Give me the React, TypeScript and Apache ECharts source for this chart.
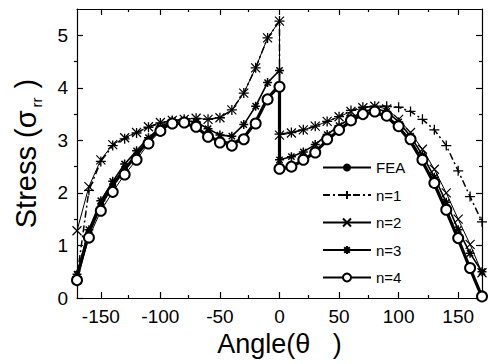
import React, { useEffect, useRef } from "react";
import * as echarts from "echarts";

const angles = [-170, -160, -150, -140, -130, -120, -110, -100, -90, -80, -70, -60, -50, -40, -30, -20, -10, 0,
  0, 10, 20, 30, 40, 50, 60, 70, 80, 90, 100, 110, 120, 130, 140, 150, 160, 170];

const fea = [0.40, 1.25, 1.78, 2.15, 2.45, 2.72, 3.00, 3.22, 3.32, 3.33, 3.25, 3.08, 2.98, 2.93, 3.05, 3.35, 3.80, 4.05,
  2.45, 2.50, 2.62, 2.78, 3.00, 3.20, 3.37, 3.50, 3.54, 3.45, 3.25, 2.98, 2.60, 2.17, 1.66, 1.12, 0.56, 0.02];
const n1 = [0.40, 2.05, 2.60, 2.90, 3.03, 3.14, 3.25, 3.33, 3.38, 3.40, 3.42, 3.40, 3.43, 3.58, 3.90, 4.38, 4.95, 5.27,
  3.12, 3.15, 3.20, 3.27, 3.36, 3.45, 3.57, 3.63, 3.65, 3.65, 3.63, 3.55, 3.40, 3.20, 2.90, 2.42, 1.93, 1.45];
const n2 = [1.28, 2.12, 2.63, 2.92, 3.05, 3.15, 3.26, 3.34, 3.38, 3.40, 3.42, 3.40, 3.43, 3.58, 3.90, 4.38, 4.95, 5.27,
  3.10, 3.14, 3.20, 3.27, 3.36, 3.45, 3.55, 3.62, 3.65, 3.60, 3.40, 3.15, 2.83, 2.45, 2.00, 1.50, 1.02, 0.48];
const n3 = [0.45, 1.30, 1.85, 2.22, 2.55, 2.80, 3.05, 3.25, 3.38, 3.38, 3.35, 3.22, 3.10, 3.08, 3.30, 3.65, 4.10, 4.33,
  2.63, 2.69, 2.78, 2.92, 3.11, 3.28, 3.42, 3.55, 3.60, 3.55, 3.35, 3.08, 2.72, 2.30, 1.82, 1.30, 0.85, 0.50];
const n4 = [0.34, 1.15, 1.66, 2.02, 2.35, 2.63, 2.94, 3.18, 3.32, 3.34, 3.26, 3.07, 2.96, 2.90, 3.02, 3.32, 3.78, 4.02,
  2.46, 2.50, 2.63, 2.77, 3.02, 3.20, 3.38, 3.50, 3.55, 3.47, 3.27, 3.02, 2.63, 2.19, 1.68, 1.14, 0.57, 0.03];

const seriesNames = ["FEA", "n=1", "n=2", "n=3", "n=4"];
const xMajor = [-150, -100, -50, 0, 50, 100, 150];
const xMinor = [-125, -75, -25, 25, 75, 125];
const yMajor = [0, 1, 2, 3, 4, 5];
const yMinor = [0.5, 1.5, 2.5, 3.5, 4.5];

const FONT = "Liberation Sans, Arial, Helvetica, sans-serif";
const PLUS = "path://M5 0L5 10M0 5L10 5";
const CROSS = "path://M0 0L10 10M10 0L0 10";
const STAR = "path://M5 0L5 10M0 5L10 5M1.5 1.5L8.5 8.5M8.5 1.5L1.5 8.5";

const pairs = (arr: number[]) => angles.map((a, i) => [a, arr[i]]);

export default function App() {
  const ref = useRef<HTMLDivElement>(null);
  useEffect(() => {
    if (!ref.current) return;
    const chart = echarts.init(ref.current, null, { renderer: "svg" });
    const black = "#000";
    const tickX = (pos: string, grid: number, vals: number[], len: number, labels: boolean, line: boolean) => ({
      type: "value", gridIndex: grid, position: pos, min: -170, max: 170,
      axisLine: { show: line, onZero: false, lineStyle: { color: black, width: 1.2 } },
      axisTick: { show: true, inside: true, length: len, customValues: vals, lineStyle: { color: black, width: 1.2 } },
      axisLabel: labels ? { show: true, customValues: vals, color: black, fontSize: 19, fontFamily: FONT, margin: 9 } : { show: false },
      splitLine: { show: false },
    });
    const tickY = (pos: string, grid: number, vals: number[], len: number, labels: boolean, line: boolean) => ({
      type: "value", gridIndex: grid, position: pos, min: 0, max: 5.5,
      axisLine: { show: line, onZero: false, lineStyle: { color: black, width: 1.2 } },
      axisTick: { show: true, inside: true, length: len, customValues: vals, lineStyle: { color: black, width: 1.2 } },
      axisLabel: labels ? { show: true, customValues: vals, color: black, fontSize: 19, fontFamily: FONT, margin: 9 } : { show: false },
      splitLine: { show: false },
    });
    const xs: any[] = [
      tickX("bottom", 0, xMajor, 6, true, true),
      tickX("top", 0, xMajor, 6, false, true),
      tickX("bottom", 1, xMinor, 3, false, false),
      tickX("top", 1, xMinor, 3, false, false),
    ];
    xs[0].name = "Angle(θ   )";
    xs[0].nameLocation = "middle";
    xs[0].nameGap = 32;
    xs[0].nameTextStyle = { fontSize: 27, fontFamily: FONT, color: black };
    const ys: any[] = [
      tickY("left", 0, yMajor, 6, true, true),
      tickY("right", 0, yMajor, 6, false, true),
      tickY("left", 1, yMinor, 3, false, false),
      tickY("right", 1, yMinor, 3, false, false),
    ];
    ys[0].name = "{a|Stress (σ}{b|rr}{a| )}";
    ys[0].nameLocation = "middle";
    ys[0].nameGap = 33;
    ys[0].nameTextStyle = {
      fontSize: 29, fontFamily: FONT, color: black,
      rich: {
        a: { fontSize: 29, fontFamily: FONT, color: black, lineHeight: 33, verticalAlign: "top" },
        b: { fontSize: 15, fontFamily: FONT, color: black, lineHeight: 16, padding: [21, 1, 0, 3], verticalAlign: "bottom" },
      },
    };

    const base = (name: string, data: number[], extra: any) => ({
      name, type: "line", xAxisIndex: 0, yAxisIndex: 0, data: pairs(data), clip: false,
      ...extra,
    });

    chart.setOption({
      animation: false,
      backgroundColor: "#fff",
      grid: [
        { left: 74, right: 9, top: 9, bottom: 66 },
        { left: 74, right: 9, top: 9, bottom: 66 },
      ],
      xAxis: xs,
      yAxis: ys,
      legend: {
        data: seriesNames,
        orient: "vertical",
        left: 317,
        top: 155,
        itemWidth: 48,
        itemHeight: 10,
        itemGap: 12.5,
        textStyle: { fontSize: 15, fontFamily: FONT, color: black },
      },
      series: [
        base("FEA", fea, {
          symbol: "circle", symbolSize: 7,
          lineStyle: { color: black, width: 3.2 },
          itemStyle: { color: black },
        }),
        base("n=1", n1, {
          symbol: PLUS, symbolSize: 10,
          lineStyle: { color: black, width: 1.5, type: [7, 3, 2, 3] },
          itemStyle: { color: black, borderColor: black, borderWidth: 1.3 },
        }),
        base("n=2", n2, {
          symbol: CROSS, symbolSize: 9,
          lineStyle: { color: black, width: 1 },
          itemStyle: { color: black, borderColor: black, borderWidth: 1.2 },
        }),
        base("n=3", n3, {
          symbol: STAR, symbolSize: 9,
          lineStyle: { color: black, width: 1.6 },
          itemStyle: { color: black, borderColor: black, borderWidth: 1.5 },
        }),
        base("n=4", n4, {
          symbol: "emptyCircle", symbolSize: 10,
          lineStyle: { color: black, width: 1 },
          itemStyle: { color: black, borderColor: black, borderWidth: 1.5 },
        }),
      ],
    });
    return () => chart.dispose();
  }, []);
  return <div ref={ref} style={{ position: "absolute", left: 0, top: 0, width: 491, height: 364 }} />;
}
